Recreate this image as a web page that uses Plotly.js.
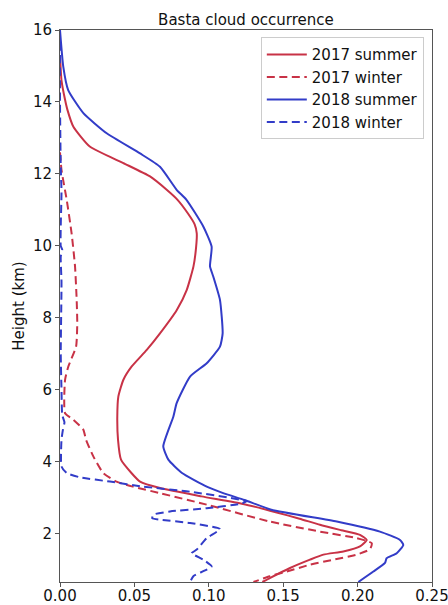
<!DOCTYPE html>
<html>
<head>
<meta charset="utf-8">
<script src="https://cdn.plot.ly/plotly-3.0.1.min.js"></script>
<style>html,body{margin:0;padding:0;background:#fff;}#chart{width:448px;height:605px;}</style>
</head>
<body>
<div id="chart"></div>
<script>
// Heights (km) and occurrence values
const h2017Summer = [15.3, 14.6, 14.06, 13.78, 13.31, 12.76, 12.3, 11.93, 11.56, 11.28, 10.9, 10.6, 10.35, 9.98, 9.43, 8.78, 8.22, 7.57, 7.11, 6.65, 6.28, 5.81, 5.26, 4.61, 4.06, 3.69, 3.45, 3.27, 3.04, 2.83, 2.6, 2.42, 2.25, 2.1, 1.97, 1.83, 1.65, 1.51, 1.42, 1.28, 1.05, 0.77, 0.66];
const v2017Summer = [0, 0.001, 0.0034, 0.005, 0.009, 0.020, 0.0426, 0.0605, 0.0717, 0.079, 0.086, 0.0905, 0.0919, 0.0915, 0.0897, 0.0852, 0.0785, 0.0672, 0.0583, 0.0482, 0.0426, 0.0392, 0.0385, 0.039, 0.041, 0.048, 0.0538, 0.0672, 0.095, 0.123, 0.145, 0.161, 0.1747, 0.189, 0.2016, 0.2061, 0.2016, 0.1904, 0.177, 0.168, 0.1546, 0.141, 0.136];

const h2017Winter = [12.6, 12.11, 11.28, 10.35, 9.43, 8.5, 7.85, 7.2, 6.65, 6.28, 5.35, 5.17, 4.89, 4.61, 4.15, 3.69, 3.45, 3.31, 3.13, 2.81, 2.34, 2.06, 1.88, 1.74, 1.57, 1.42, 1.28, 1.14, 0.95, 0.82, 0.66];
const v2017Winter = [0, 0.001, 0.0045, 0.0078, 0.0101, 0.0112, 0.0116, 0.0108, 0.0056, 0.0034, 0.0034, 0.009, 0.0157, 0.0175, 0.0224, 0.029, 0.038, 0.049, 0.067, 0.0986, 0.141, 0.1747, 0.1994, 0.2095, 0.2083, 0.1994, 0.1837, 0.168, 0.1523, 0.141, 0.13];

const h2018Summer = [16, 14.98, 14.33, 13.69, 13.13, 12.57, 12.2, 11.56, 11.28, 10.54, 9.98, 9.43, 9.15, 8.5, 7.57, 7.2, 6.74, 6.37, 5.63, 5.26, 4.43, 4.06, 3.69, 3.31, 3.13, 2.94, 2.67, 2.34, 2.06, 1.83, 1.69, 1.46, 1.32, 1.19, 0.95, 0.66];
const v2018Summer = [0, 0.0022, 0.0055, 0.0157, 0.0314, 0.0538, 0.0672, 0.0784, 0.085, 0.0963, 0.1019, 0.1008, 0.103, 0.1075, 0.1093, 0.1075, 0.0986, 0.0874, 0.0784, 0.0762, 0.0694, 0.0728, 0.082, 0.0986, 0.1097, 0.124, 0.142, 0.186, 0.215, 0.2285, 0.2307, 0.2263, 0.2195, 0.2184, 0.2106, 0.2005];

const h2018Winter = [16, 14, 12.2, 11.5, 10, 9.9, 9.7, 9, 7, 6, 5.3, 5.1, 4.9, 4.61, 3.87, 3.69, 3.57, 3.45, 3.31, 3.17, 2.9, 2.83, 2.71, 2.62, 2.53, 2.43, 2.39, 2.3, 2.13, 1.88, 1.56, 1.46, 1.28, 1.09, 0.96, 0.82, 0.66];
const v2018Winter = [0, 0, 0.0005, 0.001, 0.0005, 0.0015, 0.0005, 0.001, 0.0005, 0.001, 0.0015, 0.003, 0.002, 0.001, 0.001, 0.0045, 0.0134, 0.0336, 0.056, 0.0874, 0.1254, 0.121, 0.0986, 0.0739, 0.0627, 0.062, 0.0672, 0.0874, 0.1075, 0.0986, 0.0919, 0.0885, 0.0963, 0.1019, 0.0963, 0.0896, 0.0874];

const seriesNames = ['2017 summer', '2017 winter', '2018 summer', '2018 winter'];
const xTicks = [0, 0.05, 0.10, 0.15, 0.20, 0.25];
const yTicks = [2, 4, 6, 8, 10, 12, 14, 16];

const RED = 'rgb(200,50,70)';
const BLUE = 'rgb(50,60,200)';
const DASH = '8px,4.5px';

const traces = [
  {x: v2017Summer, y: h2017Summer, name: seriesNames[0], line: {color: RED, width: 2}},
  {x: v2017Winter, y: h2017Winter, name: seriesNames[1], line: {color: RED, width: 2, dash: DASH}},
  {x: v2018Summer, y: h2018Summer, name: seriesNames[2], line: {color: BLUE, width: 2}},
  {x: v2018Winter, y: h2018Winter, name: seriesNames[3], line: {color: BLUE, width: 2, dash: DASH}}
].map(t => { t.type = 'scatter'; t.mode = 'lines'; t.line.shape = 'spline'; t.line.smoothing = 0.5; return t; });

const axisCommon = {
  showline: true, mirror: true, linecolor: '#555', linewidth: 1,
  ticks: 'outside', ticklen: 4, tickcolor: '#555', tickwidth: 1,
  showgrid: false, zeroline: false, automargin: false,
  tickfont: {family: 'DejaVu Sans', size: 15, color: '#111'}
};

const layout = {
  width: 448, height: 605,
  margin: {l: 60, r: 16, t: 30, b: 23},
  paper_bgcolor: '#fff', plot_bgcolor: '#fff',
  font: {family: 'DejaVu Sans', color: '#111'},
  title: {text: 'Basta cloud occurrence', x: 0.549, xanchor: 'center', y: 0.968, yanchor: 'middle', yref: 'container',
          font: {family: 'DejaVu Sans', size: 15, color: '#111'}},
  xaxis: Object.assign({}, axisCommon, {range: [0, 0.25], tickvals: xTicks, tickformat: '.2f',
          ticklabelstandoff: -4, ticklabeloverflow: 'allow'}),
  yaxis: Object.assign({}, axisCommon, {range: [0.66, 16], tickvals: yTicks,
          title: {text: 'Height (km)', standoff: 4, font: {family: 'DejaVu Sans', size: 15, color: '#111'}}}),
  showlegend: true,
  legend: {x: 0.978, xanchor: 'right', y: 0.987, yanchor: 'top', bgcolor: '#fff', bordercolor: '#ccc', borderwidth: 1,
           font: {family: 'DejaVu Sans', size: 15, color: '#111'}, itemwidth: 40, tracegroupgap: 0}
};

Plotly.newPlot('chart', traces, layout, {staticPlot: true, displayModeBar: false});
</script>
</body>
</html>
